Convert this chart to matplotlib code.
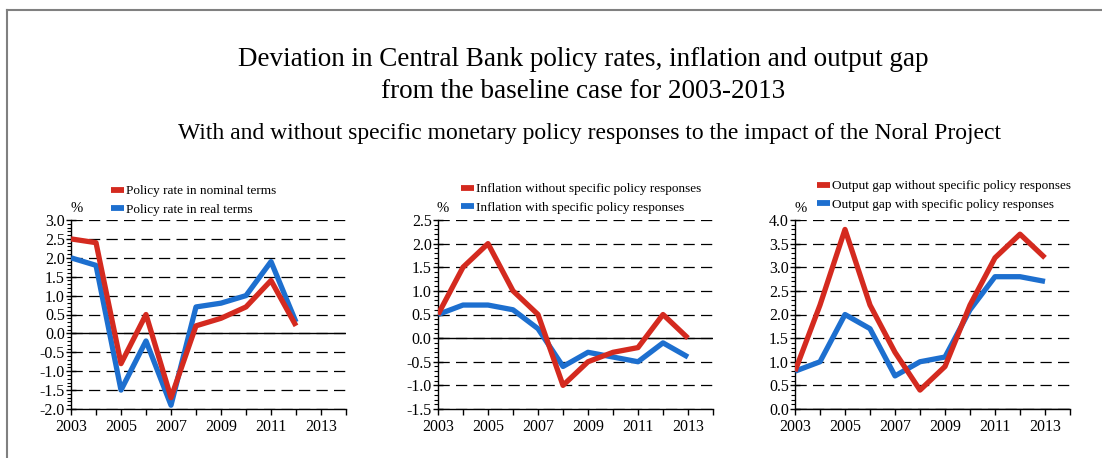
import matplotlib
matplotlib.use("Agg")
import matplotlib.pyplot as plt
from matplotlib.lines import Line2D
from matplotlib.ticker import MultipleLocator

plt.rcParams['font.family'] = ['Liberation Serif', 'DejaVu Serif']

years = [2003, 2004, 2005, 2006, 2007, 2008, 2009, 2010, 2011, 2012, 2013]

policy_nominal = [2.5, 2.4, -0.8, 0.5, -1.7, 0.2, 0.4, 0.7, 1.4, 0.2]
policy_real = [2.0, 1.8, -1.5, -0.2, -1.9, 0.7, 0.8, 1.0, 1.9, 0.3]

infl_without = [0.5, 1.5, 2.0, 1.0, 0.5, -1.0, -0.5, -0.3, -0.2, 0.5, 0.0]
infl_with = [0.5, 0.7, 0.7, 0.6, 0.2, -0.6, -0.3, -0.4, -0.5, -0.1, -0.4]

gap_without = [0.8, 2.2, 3.8, 2.2, 1.2, 0.4, 0.9, 2.2, 3.2, 3.7, 3.2]
gap_with = [0.8, 1.0, 2.0, 1.7, 0.7, 1.0, 1.1, 2.1, 2.8, 2.8, 2.7]

xtick_labels = ['2003', '2005', '2007', '2009', '2011', '2013']

title1 = "Deviation in Central Bank policy rates, inflation and output gap"
title2 = "from the baseline case for 2003-2013"
subtitle = "With and without specific monetary policy responses to the impact of the Noral Project"

panels = [
    dict(red=policy_nominal, blue=policy_real,
         labels=["Policy rate in nominal terms", "Policy rate in real terms"],
         ylim=(-2.0, 3.0), left=71, legx=111, legy=216, pctx=77),
    dict(red=infl_without, blue=infl_with,
         labels=["Inflation without specific policy responses", "Inflation with specific policy responses"],
         ylim=(-1.5, 2.5), left=438, legx=461, legy=214, pctx=443),
    dict(red=gap_without, blue=gap_with,
         labels=["Output gap without specific policy responses", "Output gap with specific policy responses"],
         ylim=(0.0, 4.0), left=795, legx=817, legy=211, pctx=801),
]

RED = '#D42A1F'
BLUE = '#1D6FCF'

W, H = 1102, 458
fig = plt.figure(figsize=(W / 100, H / 100), dpi=100)

# frame lines
fig.add_artist(Line2D([7 / W, 7 / W], [0, 1 - 10 / H], transform=fig.transFigure, color='#808080', lw=1.5))
fig.add_artist(Line2D([7 / W, 1], [1 - 10 / H, 1 - 10 / H], transform=fig.transFigure, color='#808080', lw=1.5))

fig.text(583 / W, 1 - 60 / H, title1, ha='center', va='center', fontsize=19.5)
fig.text(583 / W, 1 - 92 / H, title2, ha='center', va='center', fontsize=19.5)
fig.text(590 / W, 1 - 133 / H, subtitle, ha='center', va='center', fontsize=17)

xt_positions = list(range(2003, 2015))
xt_text = [xtick_labels[(y - 2003) // 2] if (y - 2003) % 2 == 0 and y <= 2013 else '' for y in xt_positions]

for p in panels:
    top, bottom = 220, 409
    ax = fig.add_axes([p['left'] / W, 1 - bottom / H, 275 / W, (bottom - top) / H])
    ax.set_xlim(2003, 2014)
    ax.set_ylim(*p['ylim'])
    ax.yaxis.set_major_locator(MultipleLocator(0.5))
    ax.yaxis.set_minor_locator(MultipleLocator(0.1))
    ax.yaxis.set_major_formatter(matplotlib.ticker.FormatStrFormatter('%.1f'))
    ax.set_xticks(xt_positions)
    ax.set_xticklabels(xt_text)
    for s in ['top', 'right']:
        ax.spines[s].set_visible(False)
    ax.spines['left'].set_linewidth(1.0)
    ax.spines['bottom'].set_linewidth(1.0)
    ax.tick_params(axis='y', which='major', direction='inout', length=7, width=1, labelsize=11.5, pad=1)
    ax.tick_params(axis='y', which='minor', direction='out', length=3, width=0.8)
    ax.tick_params(axis='x', which='major', direction='out', length=4, width=1, labelsize=11.5, pad=3.5)
    ax.yaxis.grid(True, which='major', linestyle=(0, (9, 5)), color='black', lw=0.9)
    ax.set_axisbelow(True)
    ax.axhline(0, color='black', lw=1.0, zorder=1.5)
    n_r = len(p['red'])
    n_b = len(p['blue'])
    ax.plot(years[:n_b], p['blue'], color=BLUE, lw=3.8, solid_capstyle='butt', zorder=3)
    ax.plot(years[:n_r], p['red'], color=RED, lw=3.8, solid_capstyle='butt', zorder=4)
    handles = [Line2D([], [], color=RED, lw=4.2, solid_capstyle='butt'),
               Line2D([], [], color=BLUE, lw=4.2, solid_capstyle='butt')]
    fig.legend(handles, p['labels'], loc='lower left',
               bbox_to_anchor=(p['legx'] / W, 1 - p['legy'] / H), frameon=False,
               fontsize=9.5, handlelength=1.0, handletextpad=0.1, labelspacing=0.5,
               borderpad=0, borderaxespad=0)
    fig.text(p['pctx'] / W, 1 - 209 / H, '%', ha='center', va='center', fontsize=10.5)

fig.savefig('out.png', dpi=100)
